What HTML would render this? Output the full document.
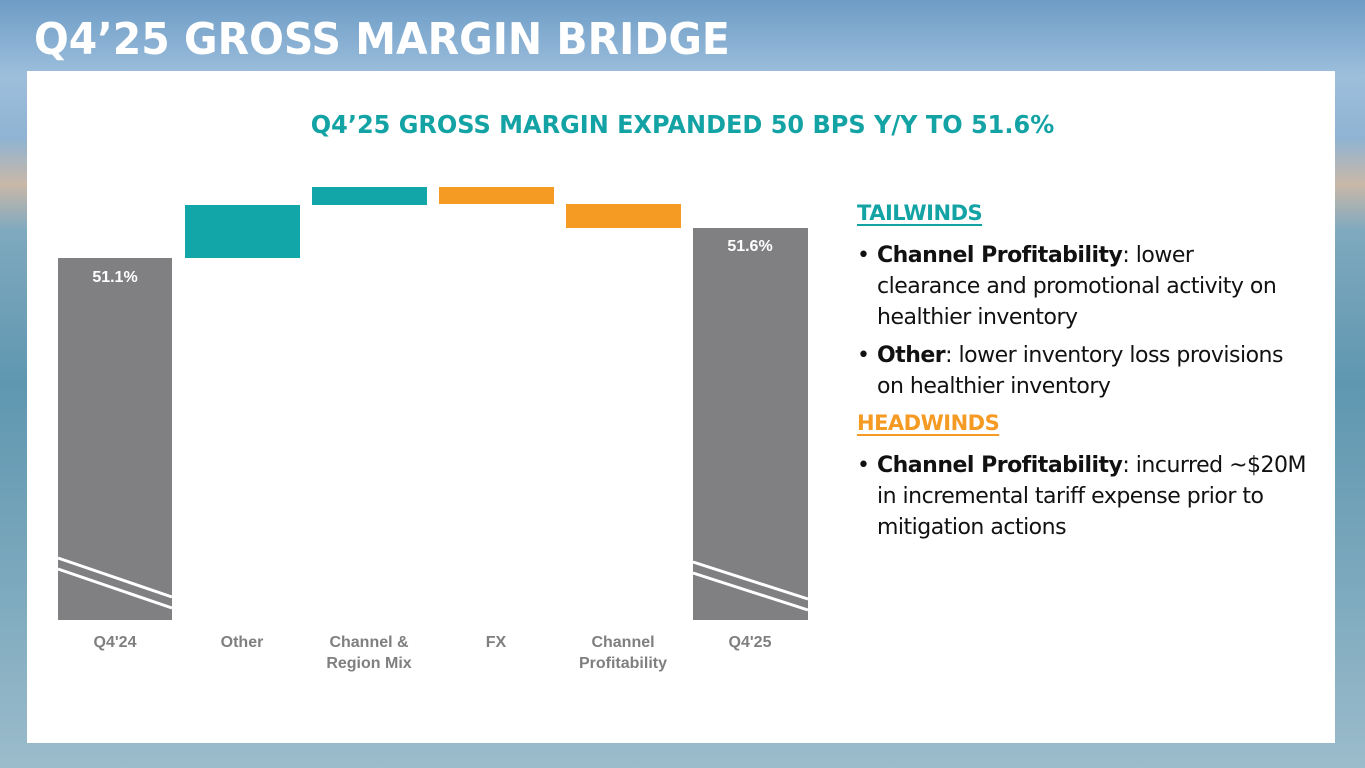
<!DOCTYPE html>
<html><head><style>
body{margin:0;width:1365px;height:768px;overflow:hidden;position:relative;font-family:"Liberation Sans",sans-serif;
background:linear-gradient(180deg,#6e9cc6 0%,#9dbfdc 10%,#8fb3d2 18%,#c9b8a8 24%,#7fa9bf 30%,#5f97b0 50%,#7ba8bd 75%,#9bbccb 100%);}
.title{position:absolute;left:34px;top:14px;color:#fff;font-weight:bold;font-size:44px;letter-spacing:0px;font-family:"DejaVu Sans",sans-serif;transform:scaleX(0.93);transform-origin:left}
.panel{position:absolute;left:27px;top:71px;width:1308px;height:672px;background:#fff}
.sub{position:absolute;left:0;width:1365px;top:110px;text-align:center;color:#14a3a5;font-weight:bold;font-size:25px;font-family:"DejaVu Sans",sans-serif;transform:scaleX(0.96)}
.b{position:absolute}
.lab{position:absolute;color:#7f7f7f;font-weight:bold;font-size:16px;text-align:center;width:130px;line-height:21px}
.val{position:absolute;color:#fff;font-weight:bold;font-size:16px;text-align:center;width:114px}
.txt{position:absolute;left:857px;width:455px;font-size:22px;color:#111;line-height:31px;font-family:"DejaVu Sans",sans-serif;letter-spacing:-0.5px}
.li{position:relative;padding-left:20px}
.li:before{content:"•";position:absolute;left:0}
h3{margin:0;font-size:21px;font-weight:bold;text-decoration:underline;text-underline-offset:4px}
</style></head><body>
<div class="title">Q4’25 GROSS MARGIN BRIDGE</div>
<div class="panel"></div>
<div class="sub">Q4’25 GROSS MARGIN EXPANDED 50 BPS Y/Y TO 51.6%</div>
<svg class="b" style="left:0;top:0" width="1365" height="768">
<rect x="58" y="258" width="114" height="362" fill="#808083"/>
<rect x="185" y="205" width="115" height="53" fill="#13a6a8"/>
<rect x="312" y="187" width="115" height="18" fill="#13a6a8"/>
<rect x="439" y="187" width="115" height="17" fill="#f59a23"/>
<rect x="566" y="204" width="115" height="24" fill="#f59a23"/>
<rect x="693" y="228" width="115" height="392" fill="#808083"/>
<g stroke="#fff" stroke-width="3">
<line x1="58" y1="558" x2="172" y2="597"/><line x1="58" y1="569" x2="172" y2="608"/>
<line x1="693" y1="562" x2="808" y2="599"/><line x1="693" y1="573" x2="808" y2="610"/>
</g>
</svg>
<div class="val" style="left:58px;top:269px">51.1%</div>
<div class="val" style="left:693px;top:238px">51.6%</div>
<div class="lab" style="left:50px;top:632px">Q4'24</div>
<div class="lab" style="left:177px;top:632px">Other</div>
<div class="lab" style="left:304px;top:632px">Channel &amp;<br>Region Mix</div>
<div class="lab" style="left:431px;top:632px">FX</div>
<div class="lab" style="left:558px;top:632px">Channel<br>Profitability</div>
<div class="lab" style="left:685px;top:632px">Q4'25</div>
<div class="txt" style="top:198px">
<h3 style="color:#14a3a5">TAILWINDS</h3>
<div class="li" style="margin-top:11px"><b>Channel Profitability</b>: lower<br>clearance and promotional activity on<br>healthier inventory</div>
<div class="li" style="margin-top:7px"><b>Other</b>: lower inventory loss provisions<br>on healthier inventory</div>
<h3 style="color:#f59a23;margin-top:6px">HEADWINDS</h3>
<div class="li" style="margin-top:11px"><b>Channel Profitability</b>: incurred ~$20M<br>in incremental tariff expense prior to<br>mitigation actions</div>
</div>
</body></html>
